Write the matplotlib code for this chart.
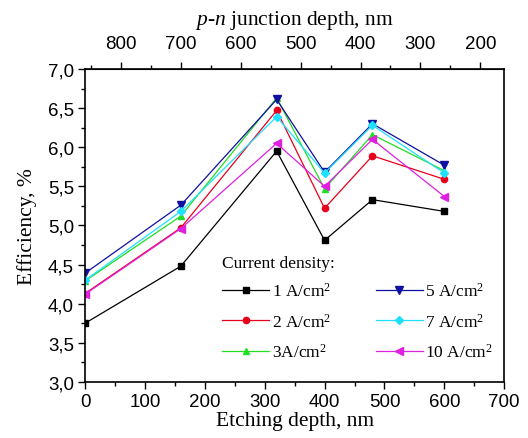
import matplotlib
matplotlib.use("Agg")
import matplotlib.pyplot as plt
from matplotlib.ticker import FuncFormatter, MultipleLocator, FixedLocator

etch = [0, 160, 320, 400, 480, 600]
labels = ["1 A/cm$^{2}$", "2 A/cm$^{2}$", "3A/cm$^{2}$", "5 A/cm$^{2}$", "7 A/cm$^{2}$", "10 A/cm$^{2}$"]
eff_1 = [3.75, 4.48, 5.95, 4.81, 5.33, 5.18]
eff_2 = [4.13, 4.97, 6.47, 5.22, 5.89, 5.59]
eff_3 = [4.29, 5.12, 6.63, 5.47, 6.16, 5.70]
eff_5 = [4.39, 5.26, 6.61, 5.68, 6.30, 5.77]
eff_7 = [4.30, 5.18, 6.39, 5.67, 6.28, 5.67]
eff_10 = [4.12, 4.96, 6.05, 5.50, 6.10, 5.37]
series = [eff_1, eff_2, eff_3, eff_5, eff_7, eff_10]
junction_ticks = [800, 700, 600, 500, 400, 300, 200]
junction_minor = [850, 750, 650, 550, 450, 350, 250, 150]
colors = ["#000000", "#e8001a", "#22dd22", "#1010a0", "#20e0ff", "#e020e0"]
markers = ["s", "o", "^", "v", "D", "<"]
msizes = [4, 4.5, 5, 5.5, 4.5, 5.5]
junction_offset = 860

serif = "Liberation Serif"
sans = "Liberation Sans"
plt.rcParams["mathtext.fontset"] = "custom"
plt.rcParams["mathtext.it"] = "Liberation Serif:italic"
plt.rcParams["mathtext.rm"] = "Liberation Serif"

fig = plt.figure(figsize=(5.28, 4.39), dpi=100)
ax = fig.add_axes([0.161, 0.1276, 0.794, 0.713])

for y, c, m, ms, lab in zip(series, colors, markers, msizes, labels):
    ax.plot(etch, y, color=c, marker=m, markersize=ms, linewidth=0.9, label=lab)

ax.set_xlim(0, 700)
ax.set_ylim(3.0, 7.0)
ax.xaxis.set_major_locator(MultipleLocator(100))
ax.xaxis.set_minor_locator(MultipleLocator(50))
ax.yaxis.set_major_locator(MultipleLocator(0.5))
ax.yaxis.set_minor_locator(MultipleLocator(0.25))
ax.yaxis.set_major_formatter(FuncFormatter(lambda v, p: f"{v:.1f}".replace(".", ",")))
ax.tick_params(which="both", direction="out", right=False, top=False)
ax.tick_params(which="major", length=5, width=1, labelsize=13.5, pad=3)
ax.tick_params(which="minor", length=3, width=1)
for t in ax.get_xticklabels() + ax.get_yticklabels():
    t.set_fontfamily(sans)
for s in ax.spines.values():
    s.set_linewidth(1.2)

ax.set_xlabel("Etching depth, nm", fontfamily=serif, fontsize=15.5, labelpad=1)
ax.set_ylabel("Efficiency, %", fontfamily=serif, fontsize=15.5, labelpad=8)

top = ax.secondary_xaxis("top", functions=(lambda x: junction_offset - x, lambda j: junction_offset - j))
top.xaxis.set_major_locator(FixedLocator(junction_ticks))
top.xaxis.set_minor_locator(FixedLocator(junction_minor))
top.tick_params(which="major", direction="out", length=5, width=1, labelsize=13.5, pad=7)
top.tick_params(which="minor", direction="out", length=3, width=1)
for t in top.get_xticklabels():
    t.set_fontfamily(sans)
top.set_xlabel("$\\it{p}$-$\\it{n}$ junction depth, nm", fontfamily=serif, fontsize=15.5, labelpad=8)

leg = ax.legend(loc="upper left", bbox_to_anchor=(0.298, 0.445), ncol=2, frameon=False,
                title="Current density:", prop={"family": serif, "size": 12.5},
                handlelength=2.7, columnspacing=2.6, labelspacing=0.72, handletextpad=0.15,
                borderaxespad=0.3)
leg.get_title().set_fontfamily(serif)
leg.get_title().set_fontsize(12.5)
leg._legend_box.align = "left"
leg._legend_box.sep = 8

fig.savefig("out.png", dpi=100)
